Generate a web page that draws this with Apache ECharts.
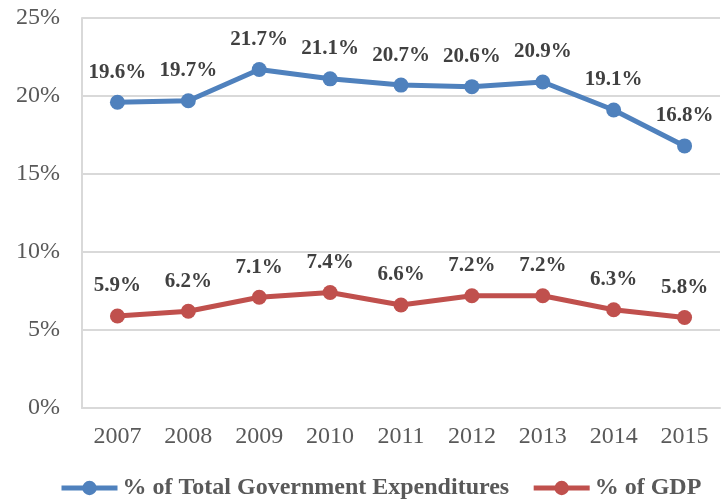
<!DOCTYPE html>
<html>
<head>
<meta charset="utf-8">
<script src="https://cdn.jsdelivr.net/npm/echarts@6/dist/echarts.min.js"></script>
<style>
  html, body { margin: 0; padding: 0; background: #fff; }
  #chart { width: 722px; height: 501px; }
</style>
</head>
<body>
<div id="chart"></div>
<script>
// Years on the category axis
const years = ['2007', '2008', '2009', '2010', '2011', '2012', '2013', '2014', '2015'];
// Share of total government expenditures (%)
const pctTotalGovExp = [19.6, 19.7, 21.7, 21.1, 20.7, 20.6, 20.9, 19.1, 16.8];
// Share of GDP (%)
const pctGDP = [5.9, 6.2, 7.1, 7.4, 6.6, 7.2, 7.2, 6.3, 5.8];
// Series names
const seriesNames = ['% of Total Government Expenditures', '% of GDP'];

const serif = '"Liberation Serif", "Times New Roman", serif';

const labelStyle = {
  show: true,
  position: 'top',
  distance: 12,
  fontFamily: serif,
  fontWeight: 'bold',
  fontSize: 21,
  color: '#404040',
  formatter: p => p.value.toFixed(1) + '%'
};

const chart = echarts.init(document.getElementById('chart'));
chart.setOption({
  animation: false,
  grid: { left: 82, right: 2, top: 18, bottom: 93, containLabel: false },
  legend: {
    top: 476,
    left: 59,
    padding: 0,
    itemWidth: 56,
    itemHeight: 18,
    itemGap: 22,
    lineStyle: { width: 5 },
    textStyle: { fontFamily: serif, fontWeight: 'bold', fontSize: 24, color: '#595959' },
    data: seriesNames
  },
  xAxis: {
    type: 'category',
    data: years,
    boundaryGap: true,
    axisLine: { show: true, lineStyle: { color: '#d9d9d9', width: 2 } },
    axisTick: { show: false },
    axisLabel: { fontFamily: serif, fontSize: 24, color: '#595959', margin: 17 }
  },
  yAxis: {
    type: 'value',
    min: 0,
    max: 25,
    interval: 5,
    axisLine: { show: true, lineStyle: { color: '#d9d9d9', width: 2 } },
    axisTick: { show: false },
    splitLine: { lineStyle: { color: '#d9d9d9', width: 2 } },
    axisLabel: { fontFamily: serif, fontSize: 24, color: '#595959', margin: 22, formatter: '{value}%' }
  },
  series: [
    {
      name: seriesNames[0],
      type: 'line',
      data: pctTotalGovExp,
      symbol: 'circle',
      symbolSize: 15,
      lineStyle: { color: '#4f81bd', width: 5 },
      itemStyle: { color: '#4f81bd' },
      label: labelStyle
    },
    {
      name: seriesNames[1],
      type: 'line',
      data: pctGDP,
      symbol: 'circle',
      symbolSize: 15,
      lineStyle: { color: '#c0504d', width: 5 },
      itemStyle: { color: '#c0504d' },
      label: labelStyle
    }
  ]
});
</script>
</body>
</html>
